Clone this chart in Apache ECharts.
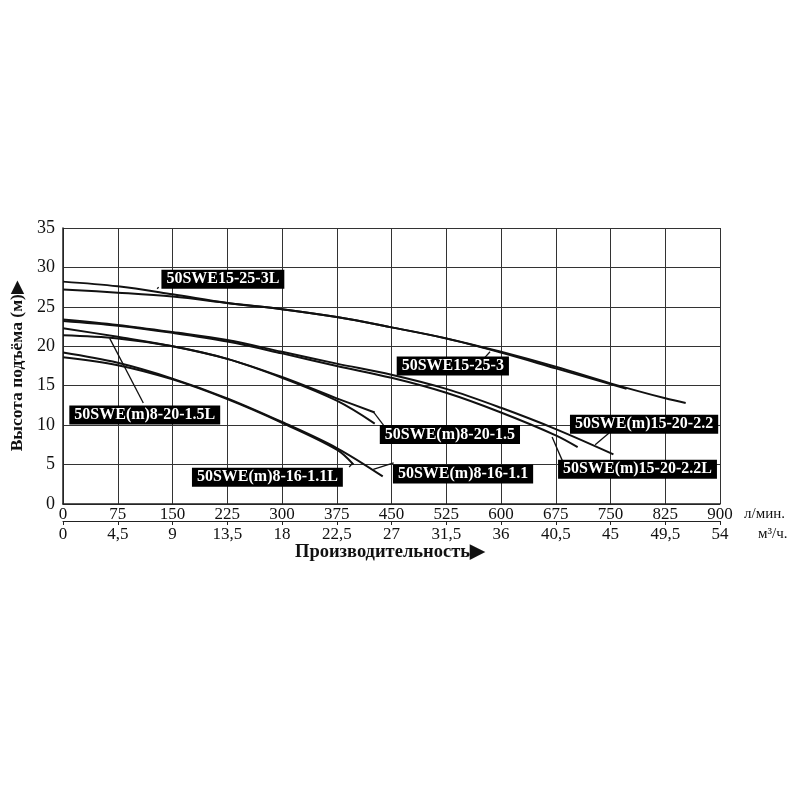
<!DOCTYPE html>
<html>
<head>
<meta charset="utf-8">
<script src="https://cdn.jsdelivr.net/npm/echarts@6/dist/echarts.min.js"></script>
<style>html,body{margin:0;padding:0;background:#fff;}#c{width:800px;height:800px;}</style>
</head>
<body>
<div id="c"></div>
<script>
// ---- data (flow in л/мин, head in м) ----
const flowTicks = [0, 75, 150, 225, 300, 375, 450, 525, 600, 675, 750, 825, 900];
const m3Ticks = [0, 4.5, 9, 13.5, 18, 22.5, 27, 31.5, 36, 40.5, 45, 49.5, 54];
const headTicks = [0, 5, 10, 15, 20, 25, 30, 35];

const q_15_25_3L = [0, 75, 150, 225, 300, 375, 450, 525, 600, 675, 772];
const h_15_25_3L = [28.2, 27.6, 26.6, 25.5, 24.7, 23.7, 22.4, 21.0, 19.2, 17.2, 14.6];
const q_15_25_3 = [0, 75, 150, 225, 300, 375, 450, 525, 600, 675, 750, 825, 853];
const h_15_25_3 = [27.2, 26.8, 26.3, 25.5, 24.7, 23.7, 22.4, 21.0, 19.3, 17.4, 15.3, 13.4, 12.8];

const q_15_20_22 = [0, 75, 150, 225, 300, 375, 450, 525, 600, 675, 754];
const h_15_20_22 = [23.4, 22.7, 21.8, 20.8, 19.3, 17.8, 16.4, 14.6, 12.2, 9.5, 6.3];
const q_15_20_22L = [0, 75, 150, 225, 300, 375, 450, 525, 600, 675, 705];
const h_15_20_22L = [23.2, 22.6, 21.7, 20.6, 19.1, 17.5, 16.0, 14.1, 11.6, 8.7, 7.2];

const q_8_20_15 = [0, 75, 150, 225, 300, 375, 427];
const h_8_20_15 = [22.3, 21.2, 20.0, 18.4, 16.1, 13.4, 11.6];
const q_8_20_15L = [0, 75, 150, 225, 300, 375, 427];
const h_8_20_15L = [21.4, 21.0, 20.0, 18.4, 16.0, 13.1, 10.2];

const q_8_16_11 = [0, 75, 150, 225, 300, 375, 438];
const h_8_16_11 = [19.2, 17.9, 15.9, 13.4, 10.4, 7.1, 3.5];
const q_8_16_11L = [0, 75, 150, 225, 300, 375, 398];
const h_8_16_11L = [18.6, 17.6, 15.8, 13.3, 10.3, 6.9, 5.0];

// annotation boxes: label text, box centre (Q,H), leader from (Q,H) to (Q,H)
const annoText = ['50SWE15-25-3L', '50SWE15-25-3', '50SWE(m)8-20-1.5L', '50SWE(m)8-20-1.5',
  '50SWE(m)8-16-1.1L', '50SWE(m)8-16-1.1', '50SWE(m)15-20-2.2', '50SWE(m)15-20-2.2L'];
const annoAt = [[219, 28.5], [534, 17.5], [112, 11.3], [530, 8.8], [280, 3.4], [548, 3.8], [796, 10.1], [787, 4.4]];
const leaderFrom = [[129, 27.3], [578, 18.6], [110, 12.8], [439, 10.0], [392, 4.7], [453, 5.2], [748, 9.0], [684, 5.5]];
const leaderTo = [[131, 27.5], [585, 19.3], [64, 21.0], [426, 11.6], [397, 5.2], [425, 4.4], [729, 7.5], [670, 8.5]];

const curves = [
  [q_15_25_3L, h_15_25_3L], [q_15_25_3, h_15_25_3],
  [q_15_20_22, h_15_20_22], [q_15_20_22L, h_15_20_22L],
  [q_8_20_15, h_8_20_15], [q_8_20_15L, h_8_20_15L],
  [q_8_16_11, h_8_16_11], [q_8_16_11L, h_8_16_11L]
];

const FONT = '"Liberation Serif", "DejaVu Serif", serif';
const chart = echarts.init(document.getElementById('c'), null, {renderer: 'canvas'});

const series = [];
curves.forEach(function (c) {
  series.push({
    type: 'line', smooth: 0.35, showSymbol: false, silent: true,
    xAxisIndex: 0, yAxisIndex: 0,
    lineStyle: {color: '#111', width: 2},
    data: c[0].map(function (q, i) { return [q, c[1][i]]; })
  });
});
annoText.forEach(function (t, i) {
  series.push({
    type: 'line', showSymbol: false, silent: true, xAxisIndex: 0, yAxisIndex: 0,
    lineStyle: {color: '#111', width: 1.3},
    data: [leaderFrom[i], leaderTo[i]]
  });
});
series.push({
  type: 'scatter', symbolSize: 0, silent: true, xAxisIndex: 0, yAxisIndex: 0, z: 10,
  itemStyle: {opacity: 1},
  data: annoText.map(function (t, i) { return {value: annoAt[i], name: t}; }),
  label: {
    show: true, position: 'inside', formatter: '{b}', opacity: 1,
    color: '#fff', backgroundColor: '#000', fontFamily: FONT, fontWeight: 'bold',
    fontSize: 16, padding: [2, 5, 1, 5]
  }
});

chart.setOption({
  animation: false,
  backgroundColor: '#fff',
  grid: {left: 63, right: 80, top: 228, bottom: 296, containLabel: false},
  xAxis: [{
    type: 'value', min: 0, max: 900, interval: 75, position: 'bottom',
    axisLine: {show: true, lineStyle: {color: '#222', width: 1.5}},
    axisTick: {show: false},
    axisLabel: {color: '#111', fontFamily: FONT, fontSize: 17, margin: 2},
    splitLine: {show: true, lineStyle: {color: '#333', width: 1}},
    name: 'л/мин.', nameLocation: 'end', nameGap: 24,
    nameTextStyle: {color: '#111', fontFamily: FONT, fontSize: 15, verticalAlign: 'top', padding: [3, 0, 0, 0]}
  }, {
    type: 'value', min: 0, max: 54, interval: 4.5, position: 'bottom', offset: 17,
    axisLine: {show: true, lineStyle: {color: '#222', width: 1}},
    axisTick: {show: true, length: 4, lineStyle: {color: '#222'}},
    axisLabel: {color: '#111', fontFamily: FONT, fontSize: 17, margin: 5,
      formatter: function (v) { return String(v).replace('.', ','); }},
    splitLine: {show: false},
    name: 'м³/ч.', nameLocation: 'end', nameGap: 38,
    nameTextStyle: {color: '#111', fontFamily: FONT, fontSize: 15, verticalAlign: 'top', padding: [6, 0, 0, 0]}
  }],
  yAxis: [{
    type: 'value', min: 0, max: 35, interval: 5,
    axisLine: {show: true, lineStyle: {color: '#222', width: 1.5}},
    axisTick: {show: false},
    axisLabel: {color: '#111', fontFamily: FONT, fontSize: 18, margin: 8},
    splitLine: {show: true, lineStyle: {color: '#333', width: 1}},
    name: 'Высота подъёма (м)▶', nameLocation: 'middle', nameRotate: 90, nameGap: 31,
    nameTextStyle: {color: '#111', fontFamily: FONT, fontSize: 17.5, fontWeight: 'bold'}
  }],
  graphic: [{
    type: 'text', left: 295, top: 543,
    style: {text: 'Производительность▶', fill: '#111', font: 'bold 18.5px "Liberation Serif", serif'}
  }],
  series: series
});
</script>
</body>
</html>
